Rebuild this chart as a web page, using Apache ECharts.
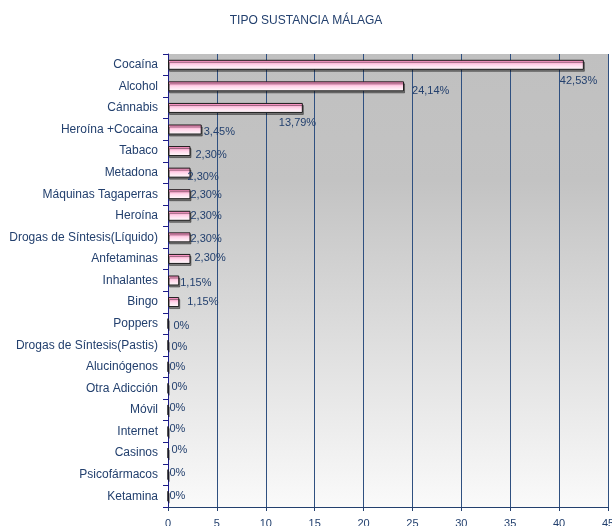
<!DOCTYPE html>
<html>
<head>
<meta charset="utf-8">
<script src="https://cdn.jsdelivr.net/npm/echarts@6/dist/echarts.min.js"></script>
<style>
  html, body { margin: 0; padding: 0; background: #fff; }
  #chart { width: 612px; height: 526px; }
</style>
</head>
<body>
<div id="chart"></div>
<script>
// categorías de arriba a abajo, tal como aparecen en el gráfico
const categorias = [
  "Cocaína", "Alcohol", "Cánnabis", "Heroína +Cocaina", "Tabaco", "Metadona",
  "Máquinas Tagaperras", "Heroína", "Drogas de Síntesis(Líquido)", "Anfetaminas",
  "Inhalantes", "Bingo", "Poppers", "Drogas de Síntesis(Pastis)", "Alucinógenos",
  "Otra Adicción", "Móvil", "Internet", "Casinos", "Psicofármacos", "Ketamina"
];
const porcentajes = [
  42.53, 24.14, 13.79, 3.45, 2.30, 2.30,
  2.30, 2.30, 2.30, 2.30,
  1.15, 1.15, 0, 0, 0,
  0, 0, 0, 0, 0, 0
];
const ticksX = [0, 5, 10, 15, 20, 25, 30, 35, 40, 45];

const azul = "#23406e";

// desplazamiento de las etiquetas (como en el Excel original, no van alineadas)
const desplazEtiquetas = [
  [-26, 16], [6, 5], [-26, 15], [0, 2], [3, 4], [-5, 4],
  [-2, 1], [-2, 0], [-2, 2], [2, -1],
  [-1, 2], [6, 0], [3, 2], [1, 2], [-1, 0],
  [1, -1], [-1, -2], [-1, -3], [1, -3], [-1, -2], [-1, 0]
];

function etiqueta(v) {
  if (v === 0) return "0%";
  return v.toFixed(2).replace(".", ",") + "%";
}

const chart = echarts.init(document.getElementById('chart'));

const datos = porcentajes.map((v, i) => ({
  value: v,
  label: { offset: desplazEtiquetas[i] }
}));

const option = {
  backgroundColor: "#ffffff",
  animation: false,
  title: {
    text: "TIPO SUSTANCIA MÁLAGA",
    left: "center",
    top: 10,
    textStyle: { fontFamily: "Liberation Sans", fontSize: 12, fontWeight: "normal", color: azul }
  },
  grid: {
    left: 168, right: 4, top: 54, bottom: 19,
    outerBoundsMode: "none",
    show: true,
    borderWidth: 0,
    backgroundColor: new echarts.graphic.LinearGradient(0, 0, 0, 1, [
      { offset: 0, color: "#c0c0c0" },
      { offset: 0.28, color: "#c3c3c3" },
      { offset: 1, color: "#fafafa" }
    ])
  },
  xAxis: {
    type: "value",
    min: ticksX[0],
    max: ticksX[ticksX.length - 1],
    interval: 5,
    axisLine: { show: true, lineStyle: { color: azul, width: 1 } },
    axisTick: { show: true, length: 4, lineStyle: { color: azul } },
    axisLabel: { color: azul, fontFamily: "Liberation Sans", fontSize: 11, margin: 11 },
    splitLine: { show: true, lineStyle: { color: "#2f5080", width: 1 } }
  },
  yAxis: {
    type: "category",
    inverse: true,
    data: categorias,
    axisLine: { show: true, lineStyle: { color: "#1c1c8a", width: 1 } },
    axisTick: { show: true, length: 5, lineStyle: { color: "#1c1c8a" } },
    axisLabel: { color: azul, fontFamily: "Liberation Sans", fontSize: 12, margin: 10 }
  },
  series: [{
    type: "bar",
    data: datos,
    barWidth: 10,
    itemStyle: {
      color: new echarts.graphic.LinearGradient(0, 0, 0, 1, [
        { offset: 0, color: "#ff7ab8" },
        { offset: 0.5, color: "#ffd6ea" },
        { offset: 1, color: "#ffffff" }
      ]),
      borderColor: "#1a1a1a",
      borderWidth: 1,
      shadowColor: "rgba(0,0,0,0.4)",
      shadowOffsetY: 2,
      shadowOffsetX: 1,
      shadowBlur: 0
    },
    label: {
      show: true,
      position: "right",
      color: azul,
      fontFamily: "Liberation Sans",
      fontSize: 11,
      distance: 2,
      formatter: p => etiqueta(p.value)
    }
  }]
};

chart.setOption(option);
</script>
</body>
</html>
